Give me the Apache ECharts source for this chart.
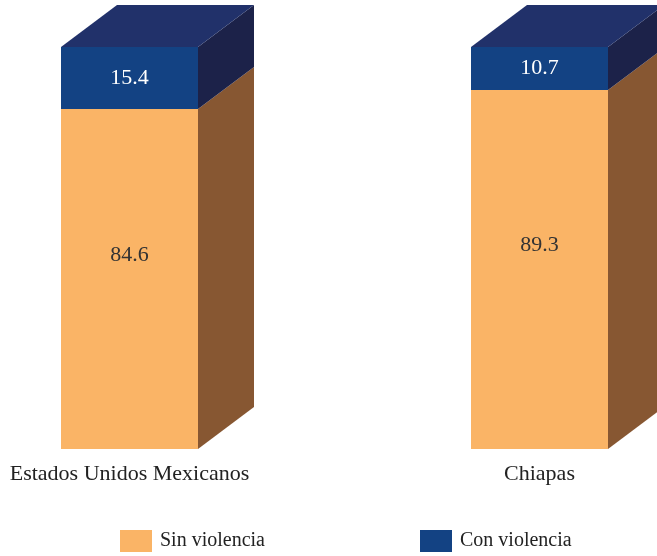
<!DOCTYPE html>
<html><head><meta charset="utf-8">
<script src="https://cdn.jsdelivr.net/npm/echarts@6/dist/echarts.min.js"></script>
<style>html,body{margin:0;padding:0;background:#fff}#c{width:657px;height:556px}</style>
</head><body><div id="c"></div>
<script>
var categories = ['Estados Unidos Mexicanos', 'Chiapas'];
var sinViolencia = [84.6, 89.3];
var conViolencia = [15.4, 10.7];
var seriesNames = ['Sin violencia', 'Con violencia'];

var FONT = '"Liberation Serif","Times New Roman",serif';
var BAR_W = 137, DX = 56, DY = 42;
var palette = {
  sin: {front: '#FAB466', side: '#875732', top: '#C98C4C', label: '#333333', offset: -24},
  con: {front: '#134283', side: '#1C2249', top: '#21316A', label: '#FFFFFF', offset: 0}
};

function makeData(vals, bases) {
  return vals.map(function (v, i) { return [i, bases[i], bases[i] + v, v]; });
}
var sinData = makeData(sinViolencia, [0, 0]);
var conData = makeData(conViolencia, sinViolencia);

function renderer(colors, drawTop) {
  return function (params, api) {
    var x = api.value(0), b = api.value(1), t = api.value(2), v = api.value(3);
    var pb = api.coord([x, b]), pt = api.coord([x, t]);
    var x0 = pb[0] - BAR_W / 2, x1 = pb[0] + BAR_W / 2;
    var yb = pb[1], yt = pt[1];
    var children = [
      {type: 'polygon', shape: {points: [[x0, yt], [x1, yt], [x1, yb], [x0, yb]]}, style: {fill: colors.front}},
      {type: 'polygon', shape: {points: [[x1, yt], [x1 + DX, yt - DY], [x1 + DX, yb - DY], [x1, yb]]}, style: {fill: colors.side}}
    ];
    if (drawTop) {
      children.push({type: 'polygon', shape: {points: [[x0, yt], [x0 + DX, yt - DY], [x1 + DX, yt - DY], [x1, yt]]}, style: {fill: colors.top}});
    }
    children.push({type: 'text', style: {text: v.toFixed(1), x: pb[0], y: (yb + yt) / 2 + colors.offset, align: 'center', verticalAlign: 'middle', fill: colors.label, font: '22px ' + FONT}});
    return {type: 'group', children: children};
  };
}

var chart = echarts.init(document.getElementById('c'), null, {renderer: 'canvas'});
chart.setOption({
  animation: false,
  grid: {left: 129.5, right: 117.5, top: 47, bottom: 107, containLabel: false},
  xAxis: {type: 'value', min: 0, max: 1, interval: 1,
    axisLine: {show: false}, axisTick: {show: false}, splitLine: {show: false},
    axisLabel: {margin: 14, color: '#222', fontFamily: FONT, fontSize: 22,
      formatter: function (v) { return categories[v] || ''; }}},
  yAxis: {type: 'value', min: 0, max: 100, show: false},
  legend: [
    {data: [{name: seriesNames[0], icon: 'rect'}], left: 120, top: 530, padding: 0, itemWidth: 32, itemHeight: 22,
      textStyle: {fontFamily: FONT, fontSize: 20, color: '#222', padding: [0, 0, 0, 3]}},
    {data: [{name: seriesNames[1], icon: 'rect'}], left: 420, top: 530, padding: 0, itemWidth: 32, itemHeight: 22,
      textStyle: {fontFamily: FONT, fontSize: 20, color: '#222', padding: [0, 0, 0, 3]}}
  ],
  series: [
    {name: seriesNames[0], type: 'custom', renderItem: renderer(palette.sin, false), data: sinData,
      itemStyle: {color: palette.sin.front}, encode: {x: 0, y: [1, 2]}},
    {name: seriesNames[1], type: 'custom', renderItem: renderer(palette.con, true), data: conData,
      itemStyle: {color: palette.con.front}, encode: {x: 0, y: [1, 2]}}
  ]
});
</script></body></html>
